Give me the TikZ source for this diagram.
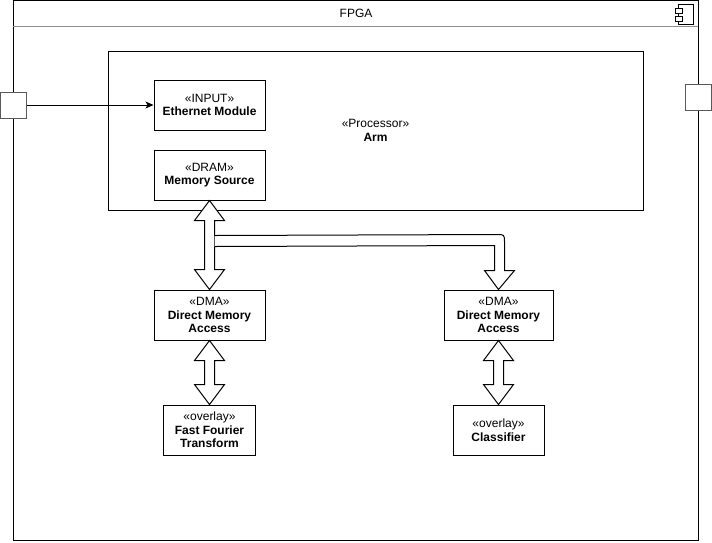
\documentclass[tikz,border=0pt]{standalone}
\usepackage{fontspec}
\setmainfont{Liberation Sans}
\usetikzlibrary{calc,arrows.meta}
\tikzset{
  base/.style={line width=1pt},
  box/.style={base,draw=black,fill=white,rectangle,align=center,inner sep=0pt,
    font=\fontsize{12}{13.5}\selectfont},
  port/.style={base,draw=black!65,fill=white,rectangle,minimum width=26pt,minimum height=26pt,inner sep=0pt},
  fat/.style={base,draw=black,fill=white,line join=miter},
}
\newcommand\dblarrow[2]{%
  \draw[fat] (#1) -- ++(15,20) -- ++(-10,0) -- ($(#2)+(5,-20)$) -- ++(10,0)
    -- (#2) -- ++(-15,-20) -- ++(10,0) -- ($(#1)+(-5,20)$) -- ++(-10,0) -- cycle;}
\begin{document}
\begin{tikzpicture}[x=1pt,y=-1pt]
\useasboundingbox (0,0) rectangle (712,542);
% outer FPGA component
\draw[base] (13,0.5) rectangle (698,540);
\draw[line width=1pt,black!45] (13,26) -- (698,26);
\node[font=\fontsize{12}{14}\selectfont] (fpga) at (356,13) {FPGA};
% component icon
\draw[base,line width=0.8pt] (678,4) rectangle (693,24);
\draw[base,line width=0.8pt,fill=white] (675,8) rectangle (682,13);
\draw[base,line width=0.8pt,fill=white] (675,16) rectangle (682,21);
% processor
\node[box,minimum width=535pt,minimum height=159pt] (arm) at (375.5,130.5)
  {\guillemotleft Processor\guillemotright\\\textbf{Arm}};
\node[box,minimum width=111pt,minimum height=50pt] (eth) at (209.5,105)
  {\guillemotleft INPUT\guillemotright\\\textbf{Ethernet Module}};
\node[box,minimum width=111pt,minimum height=50pt] (mem) at (209.5,175)
  {\guillemotleft DRAM\guillemotright\\\textbf{Memory Source}};
% DMA and overlays
\node[box,minimum width=111pt,minimum height=50pt] (dmaa) at (209.5,315)
  {\guillemotleft DMA\guillemotright\\\textbf{Direct Memory}\\\textbf{Access}};
\node[box,minimum width=109pt,minimum height=50pt] (dmab) at (498.5,315)
  {\guillemotleft DMA\guillemotright\\\textbf{Direct Memory}\\\textbf{Access}};
\node[box,minimum width=92pt,minimum height=50pt] (fft) at (209.5,430)
  {\guillemotleft overlay\guillemotright\\\textbf{Fast Fourier}\\\textbf{Transform}};
\node[box,minimum width=91pt,minimum height=50pt] (cls) at (498.5,430)
  {\guillemotleft overlay\guillemotright\\\textbf{Classifier}};
% ports
\node[port] (pin) at (13,105) {};
\node[port] (pout) at (698,97.5) {};
\draw[base,-{Stealth[length=8pt,width=7pt,inset=2pt]}] (pin.east) -- (eth.west);
% fat arrows
\dblarrow{mem.south}{dmaa.north}
\draw[fat] ($(mem.south)+(5,35)$) -- ($(dmab.north)+(-2,-55)$)
  .. controls ($(dmab.north)+(6,-55)$) .. ($(dmab.north)+(6,-47)$)
  -- ($(dmab.north)+(6,-19)$) -- ($(dmab.north)+(16,-19)$) -- (dmab.north)
  -- ($(dmab.north)+(-14,-19)$) -- ($(dmab.north)+(-4,-19)$)
  -- ($(dmab.north)+(-4,-44)$) -- ($(mem.south)+(5,46)$);
\dblarrow{dmaa.south}{fft.north}
\dblarrow{dmab.south}{cls.north}
\end{tikzpicture}
\end{document}
